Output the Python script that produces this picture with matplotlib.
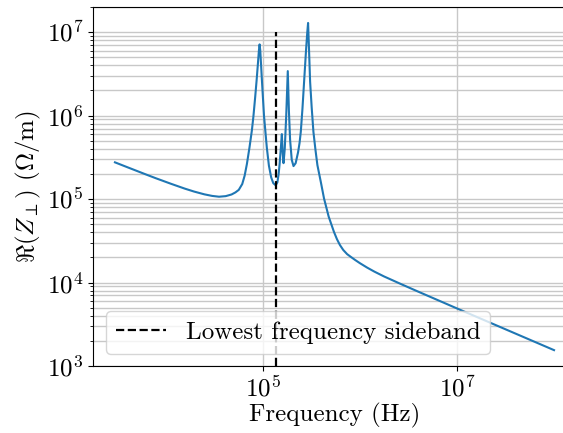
import matplotlib
matplotlib.use('Agg')
import matplotlib.pyplot as plt
from matplotlib.ticker import NullLocator, LogLocator

plt.rcParams['font.family'] = 'serif'
plt.rcParams['font.serif'] = ['cmr10', 'DejaVu Serif']
plt.rcParams['mathtext.fontset'] = 'cm'
plt.rcParams['axes.unicode_minus'] = False
plt.rcParams['axes.formatter.use_mathtext'] = True

# impedance
freq = [3.02e3, 3.98e3, 6.07e3, 7.94e3, 1.14e4, 1.58e4, 1.97e4, 2.51e4,
        3.02e4, 3.56e4, 4.17e4, 4.79e4, 5.25e4, 5.68e4, 6.17e4, 6.53e4,
        6.89e4, 7.33e4, 7.76e4, 8.04e4, 8.39e4, 8.67e4, 8.95e4, 9.16e4,
        9.31e4, 9.46e4, 9.84e4, 1.033e5, 1.104e5,
        1.161e5, 1.225e5, 1.288e5, 1.365e5, 1.419e5, 1.462e5, 1.496e5,
        1.538e5, 1.578e5, 1.611e5, 1.641e5, 1.690e5, 1.750e5, 1.816e5,
        1.866e5, 1.919e5, 1.995e5, 2.080e5, 2.188e5, 2.317e5, 2.399e5,
        2.472e5, 2.570e5, 2.673e5, 2.805e5, 2.884e5, 2.938e5, 2.992e5,
        3.083e5, 3.199e5, 3.334e5, 3.491e5, 3.664e5, 3.981e5, 4.285e5,
        4.786e5, 5.420e5, 5.821e5, 6.252e5, 6.761e5, 7.413e5, 8.054e5,
        8.913e5, 1.0e6, 1.194e6, 1.413e6, 1.778e6, 2.618e6, 4.036e6,
        1.0e7, 3.162e7, 1.0e8]
re_z = [2.754e5, 2.427e5, 2.004e5, 1.778e5, 1.524e5, 1.334e5, 1.230e5, 1.140e5,
        1.091e5, 1.067e5, 1.084e5, 1.135e5, 1.202e5, 1.288e5, 1.514e5, 1.905e5,
        2.630e5, 4.169e5, 6.699e5, 9.772e5, 1.679e6, 2.630e6, 4.217e6, 6.026e6,
        7.129e6, 6.026e6, 2.630e6, 1.0e6, 4.169e5,
        2.512e5, 1.820e5, 1.549e5, 1.462e5, 1.585e5, 1.995e5, 2.630e5,
        3.981e5, 5.998e5, 3.548e5, 2.692e5, 3.981e5, 1.0e6, 3.412e6,
        1.122e6, 5.093e5, 2.951e5, 2.483e5, 2.692e5, 3.631e5, 4.677e5,
        6.397e5, 1.202e6, 2.541e6, 6.310e6, 1.0e7, 1.288e7, 7.079e6,
        2.541e6, 1.259e6, 6.397e5, 3.981e5, 2.553e5, 1.585e5, 1.019e5,
        6.166e4, 4.055e4, 3.311e4, 2.812e4, 2.455e4, 2.188e4, 2.037e4,
        1.871e4, 1.710e4, 1.507e4, 1.352e4, 1.183e4, 9.66e3, 7.74e3,
        4.898e3, 2.754e3, 1.549e3]

sideband_freq = 1.37e5
sideband_span = [1e3, 1e7]
sideband_label = 'Lowest frequency sideband'

fig = plt.figure(figsize=(5.63, 4.33), dpi=100)
ax = fig.add_axes([93 / 563, 67 / 433, 483 / 563, 359 / 433])

ax.plot(freq, re_z, color='#1f77b4', lw=1.5)
ax.plot([sideband_freq, sideband_freq], sideband_span, 'k--', lw=1.6,
        label=sideband_label)

ax.set_xscale('log')
ax.set_yscale('log')
ax.set_ylim(1e3, 2e7)
ax.set_xticks([1e5, 1e7])
ax.xaxis.set_minor_locator(NullLocator())
ax.yaxis.set_minor_locator(LogLocator(base=10, subs=range(2, 10), numticks=50))

ax.grid(True, which='major', color='#c8c8c8', lw=1.0)
ax.grid(True, which='minor', axis='y', color='#c8c8c8', lw=1.0)
ax.set_axisbelow(True)

ax.tick_params(labelsize=18)
ax.set_xlabel('Frequency (Hz)', fontsize=18, labelpad=1)
ax.set_ylabel(r'$\Re(Z_\perp)$ ($\Omega$/m)', fontsize=18, labelpad=3)
ax.legend(loc='lower left', fontsize=18)

fig.savefig('out.png', dpi=100)
